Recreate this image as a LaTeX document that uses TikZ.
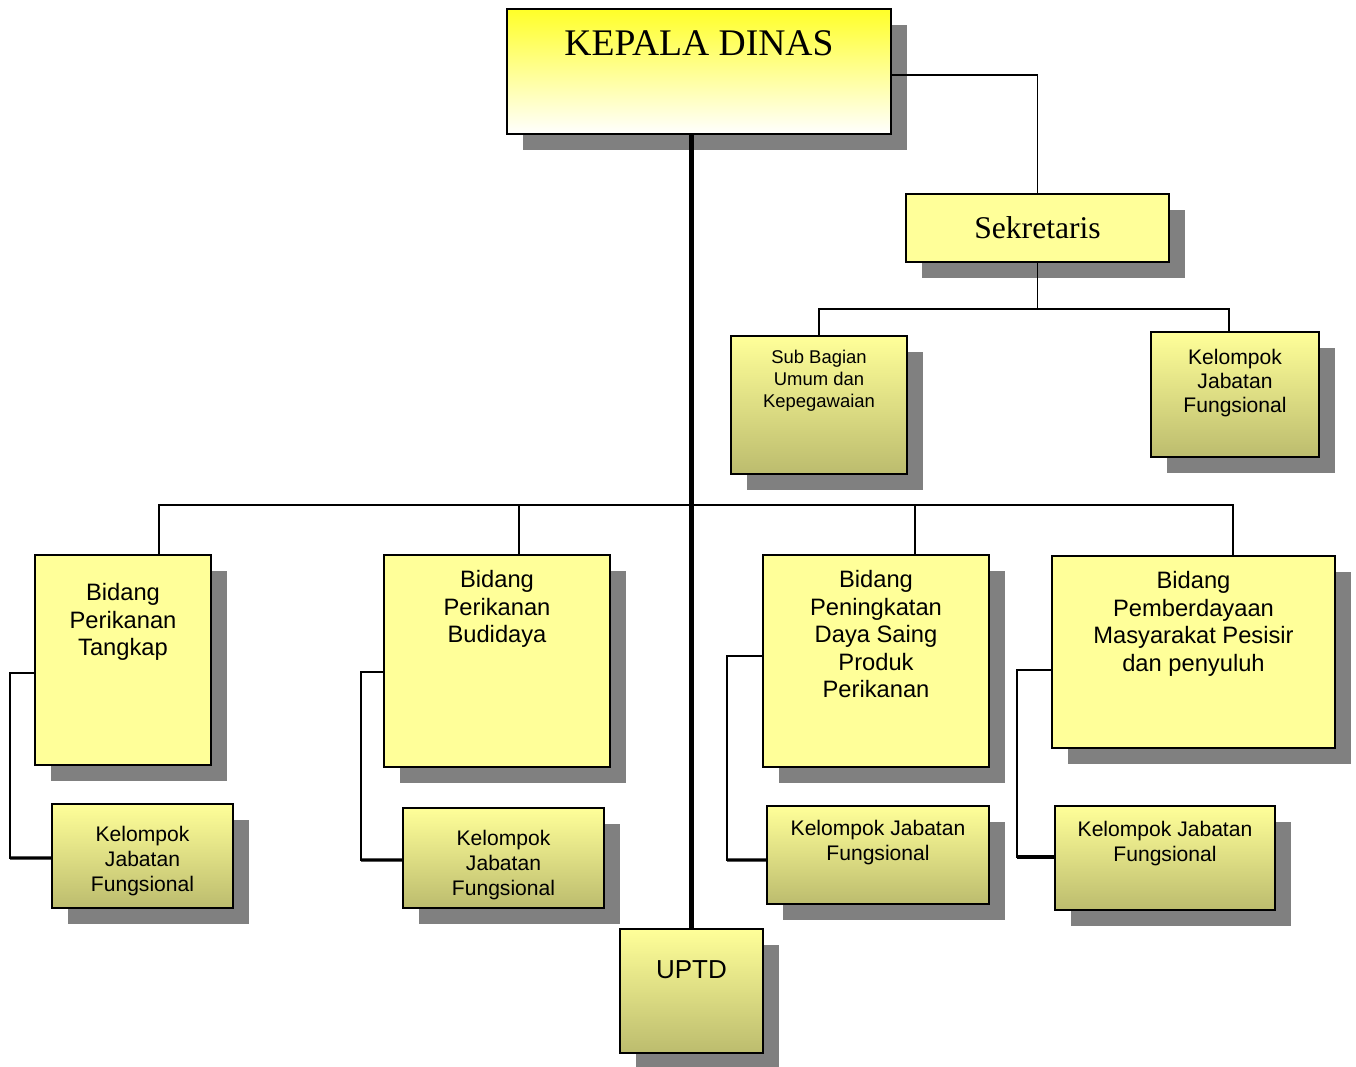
\documentclass[tikz,border=0pt]{standalone}
\usepackage{fontspec}
\setmainfont{Liberation Sans}
\newfontfamily\titlefont{Liberation Serif}
\usetikzlibrary{shadows}
\definecolor{paleyellow}{RGB}{255,255,153}
\definecolor{boxbottom}{RGB}{188,188,110}
\definecolor{headtop}{RGB}{255,255,40}
\definecolor{headmid}{RGB}{255,255,185}
\tikzset{shadowed/.style = {drop shadow={shadow xshift=0.32cm, shadow yshift=-0.32cm,
                                         fill=black!50, opacity=1}}}
\tikzset{box/.style = {shadowed, draw=black, line width=1.1pt, fill=paleyellow,
                       rectangle, inner sep=0}}
\tikzset{gbox/.style = {box, top color=paleyellow, bottom color=boxbottom}}
\tikzset{conn/.style = {draw=black, line width=0.9pt}}
\tikzset{connbold/.style = {draw=black, line width=1.8pt}}
\tikzset{trunk/.style = {draw=black, line width=2.4pt}}
\tikzset{bidtxt/.style = {font=\fontsize{13.5pt}{15.7pt}\selectfont, align=center,
                          inner sep=0, anchor=north}}
\tikzset{kjftxt/.style = {font=\fontsize{12pt}{14.2pt}\selectfont, align=center,
                          inner sep=0, anchor=north}}
\tikzset{subtxt/.style = {font=\fontsize{10.5pt}{12.5pt}\selectfont, align=center,
                          inner sep=0, anchor=north}}
\begin{document}
\begin{tikzpicture}[x=0.02cm, y=-0.02cm]
      \useasboundingbox (0,0) rectangle (1356,1066);

      \node [box, minimum width=7.68cm, minimum height=2.5cm,
             top color=headtop, middle color=headmid, bottom color=white] (kepala) at (699,71.5) {};
      \node [box, minimum width=5.26cm, minimum height=1.36cm,
             font=\titlefont\fontsize{18pt}{21pt}\selectfont] (sekr) at (1037.5,228) {Sekretaris};
      \node [gbox, minimum width=3.52cm, minimum height=2.76cm] (subbag) at (819,405) {};
      \node [gbox, minimum width=3.36cm, minimum height=2.5cm] (kjfsekr) at (1235,394.5) {};

      \node [box, minimum width=3.52cm, minimum height=4.2cm] (tangkap) at (123,660) {};
      \node [box, minimum width=4.52cm, minimum height=4.24cm] (budidaya) at (497,661) {};
      \node [box, minimum width=4.52cm, minimum height=4.24cm] (saing) at (876,661) {};
      \node [box, minimum width=5.66cm, minimum height=3.84cm] (berdaya) at (1193.5,652) {};

      \node [gbox, minimum width=3.62cm, minimum height=2.08cm] (kjfa) at (142.5,856) {};
      \node [gbox, minimum width=4.02cm, minimum height=2.0cm] (kjfb) at (503.5,858) {};
      \node [gbox, minimum width=4.44cm, minimum height=1.96cm] (kjfc) at (878,855) {};
      \node [gbox, minimum width=4.4cm, minimum height=2.08cm] (kjfd) at (1165,858) {};
      \node [gbox, minimum width=2.86cm, minimum height=2.48cm] (uptd) at (691.5,991) {};

      % texts
      \node [inner sep=0, anchor=north, yshift=-0.44cm,
             font=\titlefont\fontsize{21.4pt}{24pt}\selectfont] at (kepala.north) {KEPALA DINAS};
      \node [subtxt, yshift=-0.3cm] at (subbag.north) {Sub Bagian\\Umum dan\\Kepegawaian};
      \node [kjftxt, yshift=-0.36cm, font=\fontsize{12pt}{13.6pt}\selectfont] at (kjfsekr.north) {Kelompok\\Jabatan\\Fungsional};
      \node [bidtxt, yshift=-0.58cm] at (tangkap.north) {Bidang\\Perikanan\\Tangkap};
      \node [bidtxt, yshift=-0.32cm] at (budidaya.north) {Bidang\\Perikanan\\Budidaya};
      \node [bidtxt, yshift=-0.32cm] at (saing.north) {Bidang\\Peningkatan\\Daya Saing\\Produk\\Perikanan};
      \node [bidtxt, yshift=-0.32cm] at (berdaya.north) {Bidang\\Pemberdayaan\\Masyarakat Pesisir\\dan penyuluh};
      \node [kjftxt, yshift=-0.46cm] at (kjfa.north) {Kelompok\\Jabatan\\Fungsional};
      \node [kjftxt, yshift=-0.46cm] at (kjfb.north) {Kelompok\\Jabatan\\Fungsional};
      \node [kjftxt, yshift=-0.30cm] at (kjfc.north) {Kelompok Jabatan\\Fungsional};
      \node [kjftxt, yshift=-0.32cm] at (kjfd.north) {Kelompok Jabatan\\Fungsional};
      \node [inner sep=0, anchor=north, yshift=-0.64cm,
             font=\fontsize{14.8pt}{17pt}\selectfont] at (uptd.north) {UPTD};

      % connectors
      \draw [trunk] (uptd.north |- kepala.south) -- (uptd.north);
      \draw [conn] ([yshift=-0.07cm]kepala.east) -| (sekr.north);
      \draw [conn] (sekr.south) -- ++(0,46) coordinate (sekrbus);
      \draw [conn] (subbag.north) |- (sekrbus) -| ([xshift=-0.12cm]kjfsekr.north);

      \draw [conn] ([xshift=0.72cm]tangkap.north) -- ++(0,-49) -| ([xshift=0.79cm]berdaya.north);
      \draw [conn] ([xshift=0.44cm]budidaya.north) -- ++(0,-49);
      \draw [conn] ([xshift=0.78cm]saing.north) -- ++(0,-49);

      \draw [conn] ([yshift=-0.26cm]tangkap.west) -- ++(-24,0) coordinate (ta) |- ([yshift=-0.04cm]kjfa.west);
      \draw [connbold] (ta |- 0,858) -- ([yshift=-0.04cm]kjfa.west);
      \draw [conn] ([yshift=-0.22cm]budidaya.west) -- ++(-22,0) coordinate (tb) |- ([yshift=-0.04cm]kjfb.west);
      \draw [connbold] (tb |- 0,860) -- ([yshift=-0.04cm]kjfb.west);
      \draw [conn] ([yshift=0.10cm]saing.west) -- ++(-35,0) coordinate (tc) |- ([yshift=-0.10cm]kjfc.west);
      \draw [connbold] (tc |- 0,860) -- ([yshift=-0.10cm]kjfc.west);
      \draw [conn] ([yshift=-0.36cm]berdaya.west) -- ++(-34,0) coordinate (td) |- ([yshift=0.02cm]kjfd.west);
      \draw [connbold] (td |- 0,857) -- ([yshift=0.02cm]kjfd.west);
\end{tikzpicture}
\end{document}
